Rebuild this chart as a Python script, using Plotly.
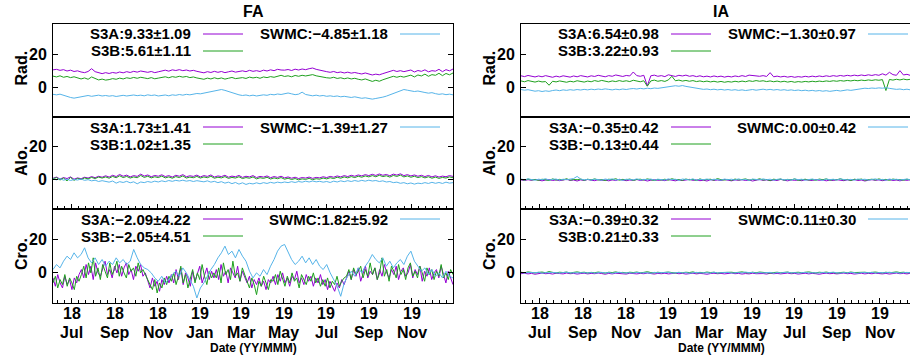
import pandas as pd
import plotly.graph_objects as go

# ---------------------------------------------------------------- data
START = "2018-06-04"
END = "2019-12-30"

TICK_DATES = ["2018-07-01", "2018-09-01", "2018-11-01", "2019-01-01", "2019-03-01",
              "2019-05-01", "2019-07-01", "2019-09-01", "2019-11-01"]
TICK_YEARS = ["18", "18", "18", "19", "19", "19", "19", "19", "19"]
TICK_MONTHS = ["Jul", "Sep", "Nov", "Jan", "Mar", "May", "Jul", "Sep", "Nov"]

COLUMNS = ["FA", "IA"]
ROWS = ["Rad.", "Alo.", "Cro."]
SERIES = ["S3A", "S3B", "SWMC"]

# mean and standard deviation quoted for each series, per panel
STATS_FA_RAD = [(9.33, 1.09), (5.61, 1.11), (-4.85, 1.18)]
STATS_FA_ALO = [(1.73, 1.41), (1.02, 1.35), (-1.39, 1.27)]
STATS_FA_CRO = [(-2.09, 4.22), (-2.05, 4.51), (1.82, 5.92)]
STATS_IA_RAD = [(6.54, 0.98), (3.22, 0.93), (-1.30, 0.97)]
STATS_IA_ALO = [(-0.35, 0.42), (-0.13, 0.44), (0.00, 0.42)]
STATS_IA_CRO = [(-0.39, 0.32), (0.21, 0.33), (0.11, 0.30)]

# FA, radial
FA_RAD_S3A = [10.5, 10.8, 10.2, 10.6, 9.8, 10.3, 9.5, 9.9,
              9.2, 8.8, 9.5, 11.2, 9.4, 8.6, 8.2, 8.8,
              8.3, 8.9, 8.5, 9.2, 8.7, 9.4, 8.9, 9.6, 9.1, 9.8, 9.3, 9.0, 9.5, 8.8, 9.3,
              9.9, 10.3, 9.7, 10.5, 10.1, 10.6, 10.0, 10.4, 9.8, 10.2, 9.6,
              9.2, 8.7, 9.4, 8.9, 9.6, 9.0, 9.5, 8.8, 9.3, 9.8, 9.1, 9.6,
              9.9, 9.4, 10.2, 9.6, 10.0, 9.5, 10.3, 9.8, 10.5, 10.0, 10.8, 10.4,
              10.3, 10.7, 10.1, 10.9, 10.4, 11.0, 10.6, 11.2, 11.6, 10.8, 10.2, 9.8, 9.4,
              9.0, 9.5, 8.8, 9.2, 8.6, 9.1, 8.5, 8.9, 8.4, 8.0, 8.6, 7.8, 7.4, 7.9,
              7.5, 8.2, 8.8, 9.6, 10.2, 9.5, 10.0, 9.4,
              9.8, 10.4, 9.2, 10.1, 9.6, 10.5, 9.3, 10.0, 9.7, 10.8, 9.4, 10.6, 9.9, 11.0]
FA_RAD_S3B = [6.7, 6.2, 6.9, 6.0, 6.5, 5.8, 6.3, 5.5,
              5.0, 5.6, 4.8, 6.2, 5.2, 4.4, 4.9, 4.3,
              4.6, 5.2, 4.8, 5.5, 5.0, 5.7, 5.3, 5.9, 5.4, 6.0, 5.6, 5.2, 5.8, 5.1, 5.5,
              5.9, 6.3, 5.7, 6.4, 6.0, 6.6, 6.1, 6.5, 5.8, 6.2, 5.6,
              5.2, 4.8, 5.5, 5.0, 5.7, 5.1, 5.6, 4.9, 5.4, 5.9, 5.2, 5.7,
              5.8, 5.3, 6.1, 5.6, 6.0, 5.4, 6.2, 5.8, 6.4, 6.0, 6.7, 7.2,
              6.5, 6.9, 6.3, 7.1, 6.6, 7.2, 6.8, 7.3, 7.6, 6.9, 6.4, 6.0, 5.7,
              5.5, 6.0, 5.3, 5.7, 5.1, 5.6, 5.0, 5.4, 4.8, 4.4, 5.0, 4.1, 3.5, 4.2,
              3.6, 4.5, 5.2, 6.0, 6.6, 6.0, 6.6, 6.1,
              6.7, 7.3, 6.2, 7.4, 6.8, 7.9, 6.6, 7.6, 7.2, 8.4, 7.0, 8.3, 7.5, 8.6]
FA_RAD_SWMC = [-4.3, -4.6, -4.2, -5.0, -5.6, -6.2, -6.6, -6.1,
               -5.8, -5.4, -5.0, -5.5, -5.2, -4.8, -5.3, -5.0,
               -5.4, -5.1, -5.6, -5.2, -4.9, -5.3, -5.0, -4.7, -5.1, -4.8, -5.2, -4.6, -5.0, -4.7, -5.3,
               -5.0, -4.7, -5.2, -4.6, -4.9, -4.4, -4.8, -4.3, -4.6, -4.1, -3.8,
               -4.0, -3.6, -3.0, -2.6, -2.1, -1.8, -1.4, -1.9, -2.6, -3.4, -4.1, -4.6,
               -5.0, -4.7, -5.2, -4.8, -5.3, -5.0, -4.6, -4.9, -4.3, -4.6, -4.1, -4.4,
               -3.9, -3.5, -4.0, -4.5, -4.2, -3.0, -4.4, -4.9, -5.2, -4.8, -5.3, -5.0, -5.5,
               -5.2, -5.6, -5.3, -5.8, -5.5, -5.9, -6.2, -5.8, -6.3, -6.7, -6.4, -6.9, -7.2, -6.8,
               -6.5, -6.0, -5.4, -4.6, -3.6, -2.6, -2.0, -1.4,
               -1.8, -2.2, -2.6, -2.3, -2.9, -3.2, -3.6, -3.3, -3.9, -4.3, -4.0, -4.5, -4.2, -4.6]

# FA, along-track
FA_ALO_S3A = [0.8, 1.5, 0.3, 1.2, 0.6, 1.6, 0.2, 1.0, 0.5, 1.4, 0.9, 1.8, 1.1, 2.0, 1.4,
              2.3, 1.5, 2.6, 1.8, 3.1, 2.0, 2.7, 1.6, 2.4, 1.9, 3.3, 2.1, 2.8, 1.7, 2.5, 2.0, 2.9, 1.8,
              2.4, 1.5, 2.6, 2.0, 3.0, 1.7, 2.3, 1.9, 2.7,
              1.6, 2.4, 1.9, 2.8, 1.5, 2.2, 1.8, 2.6, 1.4, 2.1, 1.7, 2.5, 1.3, 2.0, 1.6, 2.4, 1.2, 1.9,
              1.5, 2.2, 1.1, 1.8, 1.3, 2.0,
              1.0, 1.6, 0.8, 1.4, 0.6, 1.2, 0.9, 1.5, 0.7, 1.3, 1.0, 1.7, 1.2, 1.9, 1.4, 2.2, 1.6, 2.4,
              1.8, 2.6,
              2.0, 2.8, 2.2, 3.0, 2.4, 3.2, 2.5, 3.4, 2.6, 3.1, 2.3, 3.3, 2.7, 3.5, 2.4, 3.0, 2.2, 2.8,
              2.0, 2.6, 1.8, 2.5, 1.6, 2.3, 1.5, 2.1, 1.7, 2.4, 1.9]
FA_ALO_S3B = [0.5, 1.2, -0.3, 0.9, -0.8, 1.3, -0.5, 0.7, 0.0, 1.0, 0.4, 1.3, 0.6, 1.5, 0.9,
              1.6, 0.8, 1.9, 1.1, 2.3, 1.2, 1.9, 0.9, 1.6, 1.1, 2.5, 1.3, 2.0, 1.0, 1.7, 1.2, 2.1, 1.0,
              1.6, 0.8, 1.8, 1.2, 2.2, 0.9, 1.5, 1.1, 1.9,
              0.9, 1.6, 1.1, 2.0, 0.8, 1.4, 1.0, 1.8, 0.7, 1.3, 0.9, 1.7, 0.6, 1.2, 0.8, 1.6, 0.4, 1.1,
              0.7, 1.4, 0.3, 1.0, 0.5, 1.2,
              0.2, 0.8, 0.0, 0.6, -0.2, 0.4, 0.1, 0.7, -0.1, 0.5, 0.2, 0.9, 0.4, 1.1, 0.6, 1.4, 0.8, 1.6,
              1.0, 1.8,
              1.2, 2.0, 1.4, 2.2, 1.6, 2.4, 1.7, 2.6, 1.8, 2.3, 1.5, 2.5, 1.9, 2.7, 1.6, 2.2, 1.4, 2.0,
              1.2, 1.8, 1.0, 1.7, 0.8, 1.5, 0.7, 1.3, 0.9, 1.6, 1.1]
FA_ALO_SWMC = [0.4, -0.2, 0.6, -0.4, 0.2, -0.6, 0.0, -0.3, 0.3, -0.5, -0.1, -0.8, -0.4, -1.2, -0.7,
               -1.0, -1.6, -0.9, -2.2, -1.3, -1.8, -1.1, -2.0, -1.4, -2.6, -1.5, -1.9, -1.2, -1.7,
               -1.0, -1.5, -0.8, -1.3, -0.6, -1.1, -0.5, -0.9, -0.4, -1.0, -0.6, -1.2, -0.7,
               -0.9, -1.4, -0.8, -1.6, -1.1, -1.9, -1.3, -2.2, -1.6, -2.5, -1.8, -2.8, -2.0, -3.0,
               -2.3, -2.7, -2.0, -2.6, -1.9, -2.4, -1.7, -2.2, -1.6, -2.0,
               -1.5, -1.9, -1.3, -1.8, -1.2, -1.6, -1.0, -1.5, -0.9, -1.4, -1.1, -1.6, -1.2, -1.8,
               -1.0, -1.5, -0.8, -1.3, -0.7, -1.2,
               -0.6, -1.1, -0.5, -1.0, -0.4, -0.9, -0.6, -1.2, -0.8, -1.5, -1.2, -1.9, -1.6, -2.3,
               -1.9, -2.6, -2.1, -2.8, -2.2, -2.5, -1.9, -2.4, -1.7, -2.3, -1.8, -2.4, -1.6, -2.2, -1.9]

# FA, cross-track (S3A / S3B sampled more densely)
FA_CRO_S3A = [-3, -8, -1, -6, -9, -2, -7, -4, -10, -3, -6, -1,
              2, -3, 5, -1, 4, -4, 6, 0, -2, 3, 7, -1, 2, -3, 4, 0, 5, -2, 3, 6, -1, 2, -4, 4, 1, 5, -2, 0,
              -4, -9, -3, -8, -5, -11, -4, -7, -2, -6,
              -1, -6, 2, -4, 3, -7, 0, -3, -8, 1, -5, -1, 4, -6, -2, 3, -4, 1, -3,
              2, -4, 5, -2, 1, -6, 3, 0, -3, 4, -5, 1, -2,
              -6, -2, -9, -4, -7, -3, -8, -5, -10, -4, -6,
              -2, -7, -1, -5, 0, -6, -3, -8, -2, -4, 1, -6, -3, -7, -1, -5, -2, -8, -3, -6, -1,
              -7, -4, -10, -5, -8, -11, -6, -9, -4, -7,
              -3, 1, -4, 2, -2, 3, -5, 0, 4, -3, 1, -1, 3, -4, 2, -2, 5, 0, -3, 2, -1, 4, -4, 1,
              3, -2, 0, 5, -3, 2, -1, 4, -5, 1, -2, 3, -4, 0, 2, -3, 4, -1, -6, 1, -3, -7]
FA_CRO_S3B = [-6, -2, -9, -4, -7, -1, -8, -3, -6, -10, -2, -5,
              -1, 4, -3, 6, 0, 9, -2, 3, -4, 5, 1, -3, 6, -1, 2, 7, -2, 4, 0, -3, 5, 1, 3, -2, 6, 0, 2, -1,
              -3, -7, -10, -4, -12, -6, -9, -3, -7, -2,
              -5, 0, -7, -2, 4, -6, -1, -9, -3, 2, -6, 0, -4, 5, -2, -7, 1, -3, 0,
              -3, 3, -6, 6, -1, 2, -4, 7, -2, 0, -5, 3, -1,
              -4, -9, -3, -7, -13, -5, -8, -2, -6, -10, -4,
              -5, -1, -7, 1, -4, -8, -2, -6, 0, -5, -3, -9, -1, -4, -7, -2, -5, 0, -6, -3, -8,
              -4, -8, -3, -9, -5, -7, -2, -8, -5, -3,
              -2, 2, -4, 3, -1, 1, 4, -3, 2, -2, 6, -1, 3, -4, 0, 9, -2, 2, -5, 4, 1, -3, 5, -1,
              2, -4, 3, 6, -2, 1, -3, 4, 0, -5, 3, -1, 2, -4, 1, -2, 5, -3, 0, -4, 2, -1]
FA_CRO_SWMC = [2, 5, 3, 7, 10, 8, 12, 9,
               11, 15, 9, 6, 9, 5, 8, 4, 7, 5, 9, 6, 8, 5, 7, 14, 9, 5, 3,
               2, 0, -3, -5, -2, -6, -4, -1,
               1, -2, 3, 0, -4, -8, -15, -9, -6, -2, 2, 5,
               9, 12, 16, 11, 13, 9, 14, 10, 7,
               1, -3, 0, -2, 2, -1, 4, 8,
               13, 16, 17, 12, 8, 5, 7, 10, 6, 9, 5, 8, 4,
               2, 5, 0, -4, -8, -14, -6, -2,
               1, -2, 3, 0, 4, 7, 11, 8, 6, 9, 4, 7, 3, 6, 8, 5, 10, 13, 7, 4,
               1, 3, -1, 2, -2, 0, -3, 1, -2, -3]

# IA, radial
IA_RAD_S3A = [6.9, 6.4, 7.1, 6.6, 6.2, 6.8, 6.3, 7.0, 6.5, 6.0, 6.7, 6.2, 6.9, 6.4, 6.1, 6.8, 6.3, 7.0, 6.6, 6.2,
              6.9, 6.5, 7.2, 6.7, 6.3, 7.0, 6.6, 7.4, 6.9, 6.5, 7.1, 6.8, 9.2, 7.0, 6.6, 7.2, 0.8, 6.9, 7.3, 6.6,
              7.0, 6.4, 7.5, 6.9, 6.5, 7.2, 6.8, 7.3, 6.6, 7.0, 6.4, 6.9, 6.3, 6.7, 6.2, 6.8, 6.3, 6.7, 6.1, 6.6,
              6.2, 6.8, 6.4, 7.0, 6.5, 7.3, 7.0, 7.1, 6.6, 7.0, 6.5, 8.8, 6.3, 6.7, 6.2, 6.6, 6.1, 6.5, 6.0, 6.4,
              6.1, 6.6, 6.2, 6.7, 6.3, 6.8, 6.4, 6.9, 6.5, 7.0, 6.6, 7.1, 6.7, 7.2, 6.8, 7.3, 6.9, 7.4, 7.0, 7.5,
              7.1, 7.6, 7.2, 8.1, 7.3, 9.0, 7.6, 7.2, 10.0, 7.4, 7.8, 7.1, 7.6, 7.2, 7.5]
IA_RAD_S3B = [3.8, 3.3, 4.0, 3.5, 3.1, 3.7, 3.2, 3.4, 1.2, 3.6, 3.2, 3.8, 3.3, 3.0, 3.6, 3.2, 3.9, 3.4, 3.1, 3.7,
              3.3, 4.0, 3.5, 4.1, 3.6, 3.2, 3.8, 3.4, 4.0, 3.5, 3.9, 3.4, 4.2, 3.7, 3.3, 3.9, 0.6, 3.8, 4.3, 3.6,
              4.0, 3.5, 4.4, 6.6, 3.9, 4.3, 3.7, 4.1, 3.6, 4.0, 3.4, 3.8, 3.3, 3.7, 3.2, 3.6, 3.1, 3.5, 3.0, 3.4,
              3.1, 3.6, 3.2, 3.7, 3.3, 3.9, 3.5, 4.0, 3.6, 3.9, 3.4, 3.8, 3.3, 3.7, 3.2, 3.6, 3.1, 3.5, 3.0, 3.4,
              3.1, 3.5, 3.2, 3.6, 3.3, 3.7, 3.4, 3.8, 3.5, 3.9, 3.6, 4.0, 3.7, 4.1, 3.8, 4.2, 3.9, 4.3, 4.0, 4.4,
              4.1, 4.5, 4.2, 4.6, -2.0, 4.7, 4.3, 4.8, 4.4, 4.9, 4.5, 4.8, 4.4, 4.7, 4.5]
IA_RAD_SWMC = [-1.4, -1.8, -1.5, -2.0, -2.4, -2.1, -2.6, -2.2, -2.5, -2.0, -1.7, -2.1, -1.6, -1.9, -1.5, -1.8,
               -1.4, -1.7, -1.3, -1.6,
               -1.2, -1.5, -1.1, -1.4, -1.0, -1.3, -1.6, -1.2, -1.5, -1.1, -1.4, -1.0, -0.8, -1.1, -0.7, -1.0,
               -0.6, -0.9, -0.5, -0.7,
               -0.3, 0.1, 0.4, 0.7, 0.9, 0.6, 1.0, 0.5, 0.2, -0.2, -0.6, -1.0, -1.3, -1.1, -1.5, -1.2, -1.6,
               -1.3, -1.7, -1.4,
               -1.8, -1.5, -1.9, -1.6, -2.0, -1.7, -1.4, -1.8, -1.5, -1.2, -1.6, -1.3, -1.7, -1.4, -1.8, -1.5,
               -1.9, -1.6, -2.0, -1.7,
               -2.1, -1.8, -2.2, -1.9, -2.3, -2.0, -2.4, -2.1, -2.5, -2.2, -1.9, -2.3, -2.0, -1.6, -1.9, -1.5,
               -1.2, -0.9, -0.6, -0.8,
               -0.5, -0.7, -0.4, -0.6, -0.3, -0.7, -1.0, -1.3, -1.1, -1.5, -1.2, -1.6, -1.3, -1.7, -1.5]

# IA, along-track
IA_ALO_S3A = [-0.2, -0.6, -0.1, -0.5, 0.1, -0.4, -0.8, -0.3, 0.0, -0.6, -0.2, -0.7, -0.4, 0.1, -0.5, -0.3, -0.9, -0.2, -0.6, 0.0,
              -0.4, -0.7, -0.1, -0.5, -0.3, -0.8, -0.2, -0.6, 0.1, -0.4, -0.7, -0.3, -0.5, 0.0, -0.6, -0.2, -0.9, -0.4, -0.1, -0.5,
              -0.3, -0.7, 0.0, -0.4, -0.8, -0.2, -0.6, -0.3, 0.1, -0.5, -0.2, -0.7, -0.4, -0.9, -0.1, -0.5, -0.3, -0.6, 0.0, -0.4,
              -0.8, -0.2, -0.5, -0.1, -0.6, -0.3, -0.9, -0.4, 0.0, -0.5, -0.2, -0.7, -0.3, -0.6, 0.1, -0.4, -0.8, -0.2, -0.5, -0.3,
              -0.7, -0.1, -0.4, -0.6, 0.0, -0.5, -0.2, -0.8, -0.3, -0.6, -0.1, -0.4, -0.7, -0.2, -0.5, 0.0, -0.6, -0.3, -0.9, -0.4,
              -0.1, -0.5, -0.2, -0.7, -0.4, 0.0, -0.6, -0.3, -0.8, -0.2, -0.5, -0.1, -0.4, -0.6, -0.3]
IA_ALO_S3B = [0.1, -0.4, 0.3, -0.2, 0.0, -0.5, 0.2, -0.1, -0.6, 0.4, -0.3, 0.1, -0.2, 0.5, -0.4, 0.0, -0.1, 0.3, -0.5, 0.2,
              -0.2, 0.4, -0.3, 0.0, -0.6, 0.2, -0.1, 0.5, -0.4, 0.1, -0.2, 0.3, -0.5, 0.0, 0.2, -0.3, 0.4, -0.1, -0.6, 0.1,
              -0.3, 0.2, -0.4, 0.5, -0.1, 0.0, -0.5, 0.3, -0.2, 0.1, -0.6, 0.4, -0.3, 0.0, 0.2, -0.4, 0.6, -0.1, -0.3, 0.1,
              -0.5, 0.3, -0.2, 0.0, 0.4, -0.4, 0.1, -0.2, 0.5, -0.3, 0.0, -0.6, 0.2, -0.1, 0.3, -0.4, 0.1, -0.2, 0.4, -0.5,
              0.0, 0.2, -0.3, 0.1, -0.5, 0.3, -0.1, 0.4, -0.4, 0.0, -0.2, 0.5, -0.3, 0.1, -0.6, 0.2, -0.1, 0.3, -0.4, 0.0,
              0.2, -0.3, 0.4, -0.2, 0.1, -0.5, 0.3, -0.1, 0.0, -0.4, 0.2, -0.2, 0.3, -0.3, 0.1]
IA_ALO_SWMC = [0.3, -0.2, 0.4, 0.0, -0.4, 0.2, -0.1, 0.5, -0.3, 0.1, 0.3, -0.4, 0.2, -0.1, 0.4, 0.6, 1.9, 0.3, -0.2, 0.1,
               -0.3, 0.2, 0.0, -0.4, 0.3, -0.1, 0.4, -0.3, 0.1, -0.5, 0.2, 0.0, -0.2, 0.4, -0.3, 0.1, -0.1, 0.3, -0.4, 0.2,
               0.0, -0.3, 0.4, -0.1, 0.2, -0.5, 0.3, 0.0, -0.2, 0.4, -0.4, 0.1, -0.1, 0.3, -0.3, 0.2, 0.0, -0.4, 0.3, -0.1,
               0.2, -0.3, 0.4, -0.2, 0.1, -0.5, 0.3, 0.0, -0.2, 0.4, -0.1, 0.2, -0.4, 0.1, 0.3, -0.2, 0.0, -0.3, 0.4, -0.1,
               0.2, -0.4, 0.1, 0.3, -0.2, 0.0, -0.5, 0.3, -0.1, 0.2, -0.3, 0.4, 0.0, -0.2, 0.1, -0.4, 0.3, -0.1, 0.2, -0.3,
               0.0, 0.4, -0.2, 0.1, -0.4, 0.3, -0.1, 0.2, -0.3, 0.0, 0.3, -0.2, 0.1, -0.3, 0.2]

# IA, cross-track
IA_CRO_S3A = [-0.5, -0.2, -0.6, -0.3, -0.8, -0.4, -0.1, -0.5, -0.3, -0.7, -0.2, -0.4, -0.6, -0.1, -0.5, -0.3, -0.7, -0.4, -0.2, -0.6,
              -0.3, -0.5, -0.1, -0.4, -0.8, -0.3, -0.6, -0.2, -0.5, -0.4, -0.7, -0.2, -0.4, -0.6, -0.3, -0.5, -0.1, -0.4, -0.7, -0.3,
              -0.5, -0.2, -0.6, -0.4, -0.1, -0.5, -0.3, -0.7, -0.4, -0.2, -0.6, -0.3, -0.5, -0.8, -0.4, -0.2, -0.5, -0.3, -0.6, -0.4,
              -0.1, -0.5, -0.3, -0.7, -0.4, -0.6, -0.2, -0.5, -0.3, -0.4, -0.7, -0.2, -0.5, -0.3, -0.6, -0.4, -0.1, -0.5, -0.3, -0.7,
              -0.4, -0.2, -0.6, -0.3, -0.5, -0.8, -0.4, -0.2, -0.5, -0.3, -0.6, -0.4, -0.1, -0.5, -0.3, -0.7, -0.4, -0.2, -0.6, -0.3,
              -0.5, -0.2, -0.4, -0.6, -0.3, -0.7, -0.4, -0.1, -0.5, -0.3, -0.6, -0.2, -0.4, -0.5, -0.3]
IA_CRO_S3B = [0.4, 0.1, 0.6, 0.2, 0.0, 0.3, 0.5, 0.1, 0.8, 0.3, 0.0, 0.4, 0.2, 0.5, -0.1, 0.3, 0.6, 0.2, 0.4, 0.0,
              0.3, 0.1, 0.5, 0.2, -0.1, 0.4, 0.2, 0.6, 0.1, 0.3, 0.0, 0.4, 0.2, 0.5, 0.1, 0.3, 0.7, 0.2, 0.0, 0.4,
              0.1, 0.3, 0.5, 0.2, -0.1, 0.3, 0.1, 0.4, 0.2, 0.6, 0.0, 0.3, 0.1, 0.5, 0.2, 0.4, -0.1, 0.2, 0.3, 0.0,
              0.4, 0.1, 0.3, 0.6, 0.2, 0.0, 0.4, 0.1, 0.5, 0.2, 0.3, -0.1, 0.2, 0.4, 0.1, 0.3, 0.5, 0.0, 0.2, 0.4,
              0.1, 0.3, 0.6, 0.2, 0.0, 0.4, 0.2, 0.5, 0.1, 0.3, -0.1, 0.2, 0.4, 0.1, 0.5, 0.2, 0.3, 0.0, 0.4, 0.1,
              0.3, 0.5, 0.2, 0.0, 0.4, 0.1, 0.3, 0.6, 0.2, 0.4, 0.1, 0.3, 0.5, 0.2, 0.7]
IA_CRO_SWMC = [0.2, -0.1, 0.3, 0.0, 0.1, 0.4, -0.2, 0.2, 0.0, 0.3, 0.1, -0.1, 0.2, 0.4, 0.0, 0.1, -0.2, 0.3, 0.1, 0.0,
               0.2, -0.1, 0.1, 0.3, 0.0, 0.2, -0.2, 0.1, 0.4, 0.0, 0.2, 0.1, -0.1, 0.3, 0.0, 0.2, 0.1, -0.2, 0.3, 0.1,
               0.0, 0.2, 0.4, -0.1, 0.1, 0.3, 0.0, 0.2, -0.2, 0.1, 0.3, 0.0, 0.2, 0.1, -0.1, 0.4, 0.0, 0.2, 0.1, 0.3,
               -0.1, 0.1, 0.2, 0.0, 0.5, 0.1, 0.3, -0.1, 0.2, 0.0, 0.1, 0.3, -0.2, 0.2, 0.0, 0.1, 0.4, 0.0, 0.2, -0.1,
               0.1, 0.3, 0.0, 0.2, 0.1, -0.1, 0.3, 0.0, 0.2, 0.4, 0.1, -0.1, 0.2, 0.0, 0.3, 0.1, -0.2, 0.2, 0.0, 0.1,
               0.3, -0.1, 0.2, 0.0, 0.1, 0.4, 0.0, 0.2, -0.1, 0.1, 0.3, 0.0, 0.2, 0.1, 0.2]

PANELS = {
    ("FA", "Rad."): ([FA_RAD_S3A, FA_RAD_S3B, FA_RAD_SWMC], STATS_FA_RAD),
    ("FA", "Alo."): ([FA_ALO_S3A, FA_ALO_S3B, FA_ALO_SWMC], STATS_FA_ALO),
    ("FA", "Cro."): ([FA_CRO_S3A, FA_CRO_S3B, FA_CRO_SWMC], STATS_FA_CRO),
    ("IA", "Rad."): ([IA_RAD_S3A, IA_RAD_S3B, IA_RAD_SWMC], STATS_IA_RAD),
    ("IA", "Alo."): ([IA_ALO_S3A, IA_ALO_S3B, IA_ALO_SWMC], STATS_IA_ALO),
    ("IA", "Cro."): ([IA_CRO_S3A, IA_CRO_S3B, IA_CRO_SWMC], STATS_IA_CRO),
}

# ---------------------------------------------------------------- style
W, H = 910, 358
COLORS = ["#9400d3", "#1ea01e", "#56b4e9"]
FONT = "Liberation Sans, Arial, Helvetica, sans-serif"
PANEL_X = [(53, 453), (521, 921)]          # left / right pixel edges of each column
PANEL_Y = [(24, 117), (117, 209), (209, 303)]  # top / bottom pixel edges of each row
Y_RANGE = [-18.0, 38.2]
KEY_ROWS = (10, 27)                          # key text rows, pixels below the panel top


def px_x(x):
    return x / W


def px_y(y):
    return 1 - y / H


def fmt(v):
    return f"{v:.2f}".replace("-", "\u2212")


t0, t1 = pd.Timestamp(START), pd.Timestamp(END)

# minor ticks: six subdivisions of each two-month interval
major = [pd.Timestamp(d) for d in TICK_DATES]
edges = [major[0] - (major[1] - major[0])] + major + [major[-1] + (major[-1] - major[-2])]
minor_vals = []
for a, b in zip(edges[:-1], edges[1:]):
    for k in range(1, 6):
        m = a + (b - a) * k / 6
        if t0 <= m <= t1:
            minor_vals.append(m.strftime("%Y-%m-%d"))

fig = go.Figure()
layout = dict(
    width=W, height=H, margin=dict(l=0, r=0, t=0, b=0),
    paper_bgcolor="white", plot_bgcolor="white", showlegend=False,
    font=dict(family=FONT, size=15, color="black", weight="bold"),
)
annotations, shapes = [], []

for c, col in enumerate(COLUMNS):
    left, right = PANEL_X[c]
    vis_right = min(right, W)
    x_end = t0 + (t1 - t0) * (vis_right - left) / (right - left)
    for r, row in enumerate(ROWS):
        top, bottom = PANEL_Y[r]
        k = c * 3 + r + 1
        xa = "x" if k == 1 else f"x{k}"
        ya = "y" if k == 1 else f"y{k}"
        series, stats = PANELS[(col, row)]
        for s, vals in enumerate(series):
            dates = pd.date_range(t0, t1, periods=len(vals))
            fig.add_trace(go.Scatter(x=dates, y=vals, mode="lines", xaxis=xa, yaxis=ya,
                                     line=dict(color=COLORS[s], width=1), hoverinfo="skip"))

        xaxis = dict(
            domain=[px_x(left), px_x(vis_right)], range=[t0, x_end], type="date",
            anchor=ya, showline=True, linecolor="black", linewidth=1, mirror=True,
            showgrid=False, zeroline=False, tickmode="array", tickvals=TICK_DATES,
            showticklabels=False,
            ticks="inside" if r > 0 else "", ticklen=5, tickcolor="black",
        )
        if r > 0:
            xaxis["minor"] = dict(tickmode="array", tickvals=minor_vals, ticks="inside",
                                  ticklen=3, tickcolor="black")
        yaxis = dict(
            domain=[px_y(bottom), px_y(top)], range=Y_RANGE, anchor=xa,
            showline=True, linecolor="black", linewidth=1,
            mirror="ticks" if c == 0 else False,
            showgrid=False, zeroline=False, tickmode="array", tickvals=[0, 20],
            ticks="inside", ticklen=5, tickcolor="black",
            tickfont=dict(size=16, weight="bold"), ticklabelstandoff=2,
        )
        layout["xaxis" if k == 1 else f"xaxis{k}"] = xaxis
        layout["yaxis" if k == 1 else f"yaxis{k}"] = yaxis

        # axis title for the row
        annotations.append(dict(
            text=row, textangle=-90, xref="paper", yref="paper",
            x=px_x(left - 32), y=px_y((top + bottom) / 2 - 2),
            xanchor="center", yanchor="middle", showarrow=False,
            font=dict(size=16, weight="bold")))

        # key: two columns, S3A / S3B on the left, SWMC on the right
        key_items = [(0, 140, KEY_ROWS[0]), (1, 140, KEY_ROWS[1]), (2, 337, KEY_ROWS[0])]
        for s, dx, dy in key_items:
            mean, std = stats[s]
            annotations.append(dict(
                text=f"{SERIES[s]}:{fmt(mean)}\u00b1{fmt(std)}", xref="paper", yref="paper",
                x=px_x(left + dx), y=px_y(top + dy), xanchor="right", yanchor="middle",
                showarrow=False, font=dict(size=15, weight="bold")))
            shapes.append(dict(
                type="line", xref="paper", yref="paper",
                x0=px_x(left + dx + 10), x1=px_x(min(left + dx + 50, W)),
                y0=px_y(top + dy), y1=px_y(top + dy),
                line=dict(color=COLORS[s], width=1)))

        # two-line date labels under the bottom row
        if r == 2:
            for d, yy, mm in zip(TICK_DATES, TICK_YEARS, TICK_MONTHS):
                for txt, ypix in ((yy, 313), (mm, 332)):
                    annotations.append(dict(
                        text=txt, xref=xa, yref="paper", x=d, y=px_y(ypix),
                        xanchor="center", yanchor="middle", showarrow=False,
                        font=dict(size=16, weight="bold")))

    # column title and date label
    mid = (left + right) / 2
    annotations.append(dict(text=col, xref="paper", yref="paper", x=px_x(mid), y=px_y(12),
                            xanchor="center", yanchor="middle", showarrow=False,
                            font=dict(size=16, weight="bold")))
    annotations.append(dict(text="Date (YY/MMM)", xref="paper", yref="paper", x=px_x(mid),
                            y=px_y(348), xanchor="center", yanchor="middle", showarrow=False,
                            font=dict(size=12, weight="bold")))

layout["annotations"] = annotations
layout["shapes"] = shapes
fig.update_layout(**layout)
fig.write_html("out.html")
